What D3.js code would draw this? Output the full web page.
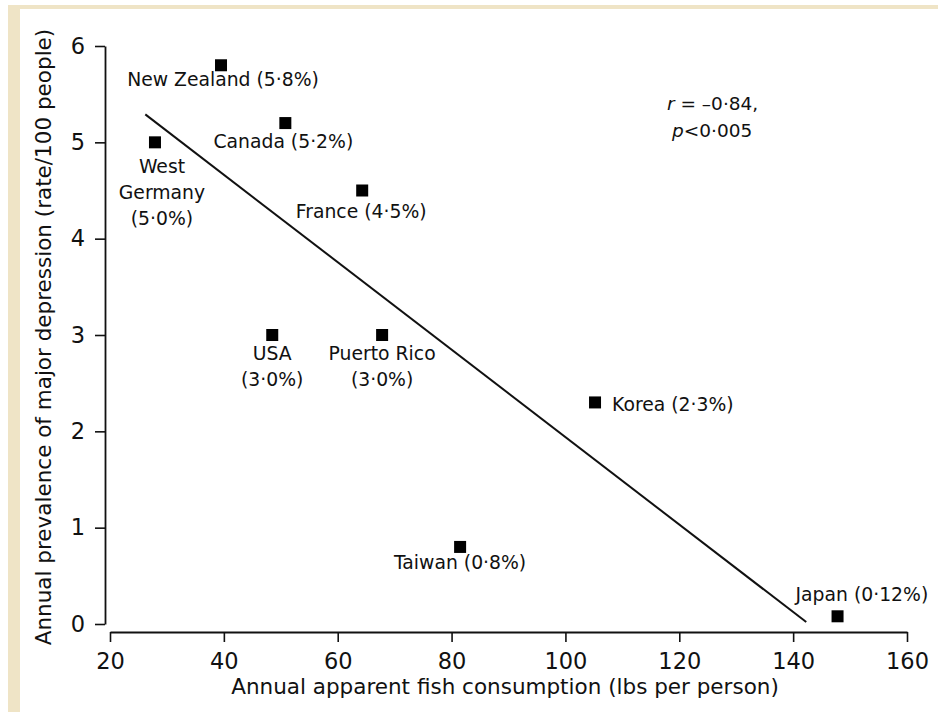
<!DOCTYPE html>
<html>
<head>
<meta charset="utf-8">
<script src="https://cdn.jsdelivr.net/npm/d3@7/dist/d3.min.js"></script>
<style>
  html, body { margin: 0; padding: 0; background: #ffffff; }
  svg { display: block; }
  text { font-family: "DejaVu Sans", "Liberation Sans", Arial, sans-serif; fill: #111; }
</style>
</head>
<body>
<svg id="chart" width="938" height="712"></svg>
<script>
// ---- data ----
const countries   = ["New Zealand", "Canada", "West Germany", "France", "USA", "Puerto Rico", "Korea", "Taiwan", "Japan"];
const fish        = [39.5, 50.8, 27.9, 64.3, 48.5, 67.8, 105.2, 81.5, 147.8];
const depression  = [5.8, 5.2, 5.0, 4.5, 3.0, 3.0, 2.3, 0.8, 0.08];
const pointLabels = [
  ["New Zealand (5·8%)"],
  ["Canada (5·2%)"],
  ["West", "Germany", "(5·0%)"],
  ["France (4·5%)"],
  ["USA", "(3·0%)"],
  ["Puerto Rico", "(3·0%)"],
  ["Korea (2·3%)"],
  ["Taiwan (0·8%)"],
  ["Japan (0·12%)"]
];
const trendX = [26.2, 142.3];
const trendY = [5.29, 0.02];
const xTicks = [20, 40, 60, 80, 100, 120, 140, 160];
const yTicks = [0, 1, 2, 3, 4, 5, 6];
const xTitle = "Annual apparent fish consumption (lbs per person)";
const yTitle = "Annual prevalence of major depression (rate/100 people)";

// ---- layout ----
const svg = d3.select("#chart");
// paper edge
svg.append("rect").attr("x", 8).attr("y", 5).attr("width", 930).attr("height", 707).attr("fill", "#efe4c6");
svg.append("rect").attr("x", 20).attr("y", 9).attr("width", 918).attr("height", 703).attr("fill", "#ffffff");

const x = d3.scaleLinear().domain([20, 160]).range([110, 907]);
const y = d3.scaleLinear().domain([0, 6]).range([624, 46]);

const xAxis = svg.append("g").attr("transform", "translate(0,632)")
  .call(d3.axisBottom(x).tickValues(xTicks).tickSize(10).tickSizeOuter(0).tickPadding(11).tickFormat(d3.format("d")));
const yAxis = svg.append("g").attr("transform", "translate(105,0)")
  .call(d3.axisLeft(y).tickValues(yTicks).tickSize(10).tickSizeOuter(0).tickPadding(10).tickFormat(d3.format("d")));
[xAxis, yAxis].forEach(g => {
  g.selectAll("path.domain").attr("stroke", "#111").attr("stroke-width", 1.8);
  g.selectAll(".tick line").attr("stroke", "#111").attr("stroke-width", 1.6);
  g.selectAll(".tick text").attr("font-family", "DejaVu Sans, Liberation Sans, Arial, sans-serif")
    .attr("font-size", 22.5).attr("fill", "#111");
});
xAxis.selectAll(".tick text").attr("dy", "0.71em");

// axis titles
svg.append("text").attr("x", 505).attr("y", 694).attr("text-anchor", "middle")
  .attr("font-size", 21.5).text(xTitle);
svg.append("text").attr("transform", "translate(51,337) rotate(-90)").attr("text-anchor", "middle")
  .attr("font-size", 21.5).text(yTitle);

// trend line
const line = d3.line().x(d => x(d[0])).y(d => y(d[1]));
svg.append("path").datum(d3.zip(trendX, trendY)).attr("d", line)
  .attr("fill", "none").attr("stroke", "#111").attr("stroke-width", 2);

// points
const pts = countries.map((c, i) => ({ c, fx: fish[i], dp: depression[i], lab: pointLabels[i] }));
const sq = 12;
svg.selectAll("rect.pt").data(pts).enter().append("rect").attr("class", "pt")
  .attr("x", d => x(d.fx) - sq / 2).attr("y", d => y(d.dp) - sq / 2)
  .attr("width", sq).attr("height", sq).attr("fill", "#000");

// label offsets (relative to the marker)
const labelStyle = {
  "New Zealand": { dx: 2, dy: 21, anchor: "middle" },
  "Canada":      { dx: -2, dy: 25, anchor: "middle" },
  "West Germany":{ dx: 7, dy: 31, anchor: "middle" },
  "France":      { dx: -1, dy: 27, anchor: "middle" },
  "USA":         { dx: 0, dy: 25, anchor: "middle" },
  "Puerto Rico": { dx: 0, dy: 25, anchor: "middle" },
  "Korea":       { dx: 17, dy: 9, anchor: "start" },
  "Taiwan":      { dx: 0, dy: 22, anchor: "middle" },
  "Japan":       { dx: -42, dy: -15, anchor: "start" }
};
pts.forEach(d => {
  const s = labelStyle[d.c];
  const t = svg.append("text").attr("font-size", 18.8).attr("text-anchor", s.anchor)
    .attr("x", x(d.fx) + s.dx).attr("y", y(d.dp) + s.dy);
  d.lab.forEach((ln, k) => {
    t.append("tspan").attr("x", x(d.fx) + s.dx).attr("dy", k === 0 ? 0 : 26).text(ln);
  });
});

// statistics annotation
const ann = svg.append("text").attr("font-size", 18.5).attr("x", 667).attr("y", 110);
ann.append("tspan").attr("font-style", "italic").text("r");
ann.append("tspan").text(" = –0·84,");
const ann2 = svg.append("text").attr("font-size", 18.5).attr("x", 672).attr("y", 137);
ann2.append("tspan").attr("font-style", "italic").text("p");
ann2.append("tspan").text("<0·005");
</script>
</body>
</html>
